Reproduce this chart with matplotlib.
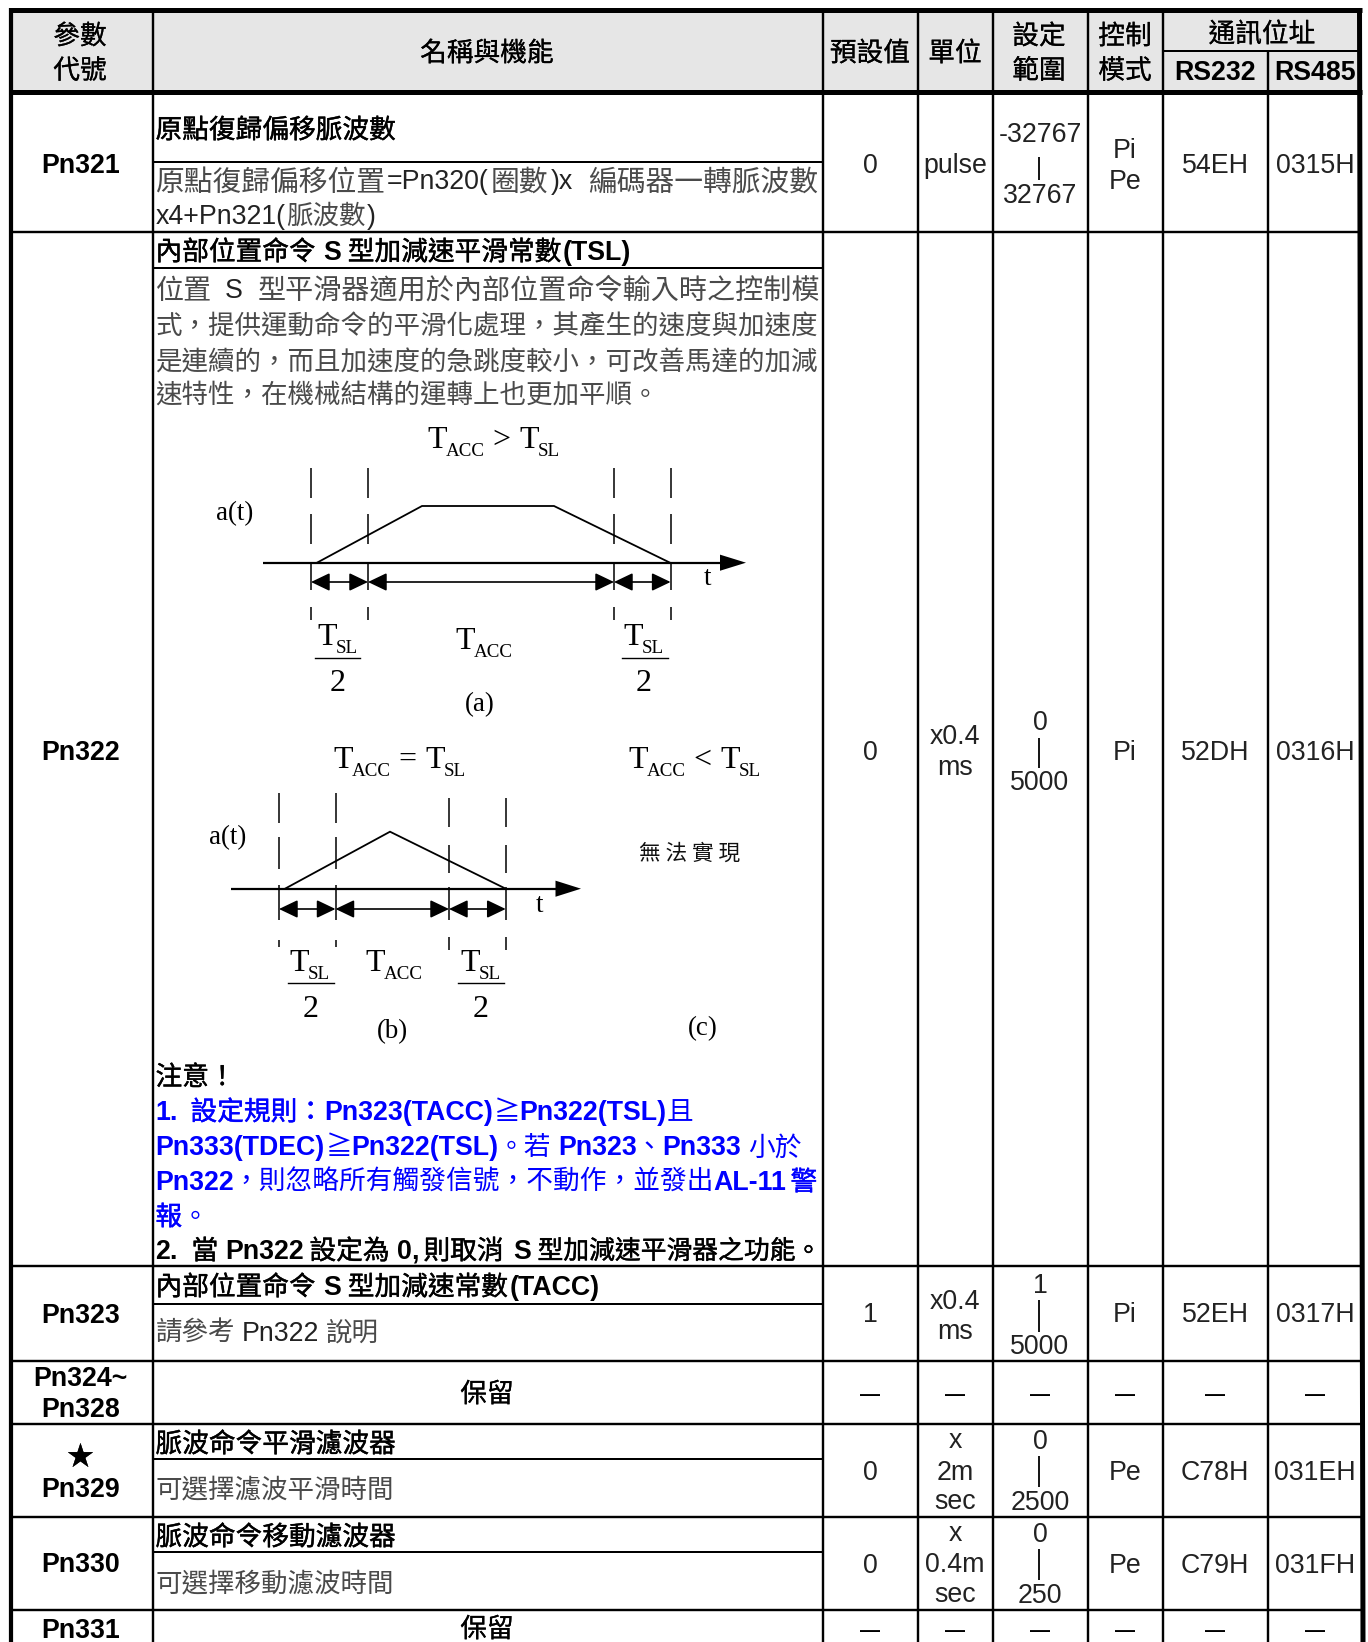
import matplotlib
matplotlib.use('Agg')
import matplotlib.pyplot as plt
from matplotlib import patheffects as pe
from matplotlib.patches import FancyArrowPatch, ArrowStyle, Rectangle

# contenido de la tabla
codes = [['Pn321'], ['Pn322'], ['Pn323'], ['Pn324~', 'Pn328'], ['★', 'Pn329'], ['Pn330'], ['Pn331']]
defaults = ['0', '0', '1', '—', '0', '0', '—']
units = [['pulse'], ['x0.4', 'ms'], ['x0.4', 'ms'], ['—'], ['x', '2m', 'sec'], ['x', '0.4m', 'sec'], ['—']]
range_lo = ['-32767', '0', '1', None, '0', '0', None]
range_hi = ['32767', '5000', '5000', None, '2500', '250', None]
modes = [['Pi', 'Pe'], ['Pi'], ['Pi'], ['—'], ['Pe'], ['Pe'], ['—']]
rs232 = ['54EH', '52DH', '52EH', '—', 'C78H', 'C79H', '—']
rs485 = ['0315H', '0316H', '0317H', '—', '031EH', '031FH', '—']

headings = {
    128: [('原點復歸偏移脈波數', 'H')],
    250: [('內部位置命令', 'H'), ('S', 'B'), ('型加減速平滑常數', 'H'), ('(TSL)', 'B')],
    1285: [('內部位置命令', 'H'), ('S', 'B'), ('型加減速常數', 'H'), ('(TACC)', 'B')],
    1442: [('脈波命令平滑濾波器', 'H')],
    1535: [('脈波命令移動濾波器', 'H')],
}
body_short = {
    214: [('x4+Pn321(', 'L'), ('脈波數', 'C'), (')', 'L')],
    324: [('式，提供運動命令的平滑化處理，其產生的速度與加速度', 'C')],
    360: [('是連續的，而且加速度的急跳度較小，可改善馬達的加減', 'C')],
    393: [('速特性，在機械結構的運轉上也更加平順。', 'C')],
    1331: [('請參考', 'C'), ('Pn322', 'L'), ('說明', 'C')],
    1487: [('可選擇濾波平滑時間', 'C')],
    1581: [('可選擇移動濾波時間', 'C')],
}

line_a = ['原點復歸偏移位置', '=Pn320(', '圈數', ')x', '編碼器一轉脈波數']
line_a_st = 'ALALA'
line_a_x = [157, 388, 492, 552, 590]
line_b = ['位置', 'S', '型平滑器適用於內部位置命令輸入時之控制模']
line_b_st = 'TLT'
line_b_x = [157, 226, 259]

note_0 = ['注意！']
note_1 = ['1.', '設定規則：', 'Pn323(TACC)', '≧', 'Pn322(TSL)', '且']
note_1_st = 'mMmbmb'
note_1_x = [157, 192, 326, 495, 521, 668]
note_2 = ['Pn333(TDEC)', '≧', 'Pn322(TSL)', '。若', 'Pn323', '、', 'Pn333', '小於']
note_2_st = 'mbmbmbmb'
note_2_x = [157, 327, 353, 499, 560, 637, 664, 750]
note_3 = ['Pn322', '，則忽略所有觸發信號，不動作，並發出', 'AL-11', '警']
note_3_st = 'mbmM'
note_3_x = [157, 234, 715, 792]
note_4 = ['報', '。']
note_4_st = 'Mb'
note_4_x = [157, 183]
note_5 = ['2.', '當', 'Pn322', '設定為', '0', ',', '則取消', 'S', '型加減速平滑器之功能。']
note_5_st = 'BHBHBBHBS'
note_5_x = [157, 193, 227, 311, 398, 413, 425, 515, 539]

# geometria de la tabla (pixeles de la imagen)
col_edges = [10.5, 153, 823, 918, 993, 1088, 1163, 1268, 1361]
row_edges = [92, 232, 1266.5, 1361, 1424, 1517, 1610]
sub_rows = [162, 268, 1304, 1459, 1552]
row_y = [163.5, 750, 1312, 1393, 1470, 1563, 1629]
code_y = [[163.5], [750], [1313], [1376, 1407], [1455, 1487], [1562], [1628]]
unit_y = [[163.5], [734, 765], [1299, 1329], [1393], [1438, 1470, 1499], [1531, 1562, 1592], [1629]]
range_y = [(132, 193), (720, 780), (1283, 1344), None, (1439, 1500), (1532, 1593), None]
bar_y = [(157, 180), (738, 768), (1300, 1332), None, (1456, 1487), (1549, 1580), None]
mode_y = [[148, 179], [750], [1312], [1393], [1470], [1563], [1629]]
cx = [870, 955, 1040, 1125, 1215, 1315]

FS = 26.7 * 0.72  # px a dpi 100
SERIF = 'Liberation Serif'
ARIAL = 'Liberation Sans'
CJK = 'Noto Sans CJK TC'

fig = plt.figure(figsize=(13.68, 16.42), dpi=100)
ax = fig.add_axes([0, 0, 1, 1])
ax.set_xlim(0, 1368)
ax.set_ylim(1642, 0)
ax.axis('off')
rend = fig.canvas.get_renderer()

STYLES = {
    'C': dict(family=CJK, color='#4a4a4a', size=26.5 * 0.72),
    'T': dict(family=CJK, color='#4a4a4a', size=28.1 * 0.72),
    'A': dict(family=CJK, color='#4a4a4a', size=28.8 * 0.72),
    'L': dict(family=ARIAL, color='#222222'),
    'N': dict(family=CJK, color='black', stroke=0.15),
    'H': dict(family=CJK, color='black', stroke=0.3),
    'S': dict(family=CJK, color='black', stroke=0.3, size=25.8 * 0.72),
    'B': dict(family=ARIAL, color='black', weight='bold'),
    'D': dict(family=ARIAL, color='black', weight='bold', size=20 * 0.72),
    'b': dict(family=CJK, color='#0000ff'),
    'M': dict(family=CJK, color='#0000ff', stroke=0.3),
    'm': dict(family=ARIAL, color='#0000ff', weight='bold'),
}


def put(x, y, s, style='L', ha='left'):
    opts = dict(STYLES[style])
    stroke = opts.pop('stroke', None)
    size = opts.pop('size', FS)
    # y es el centro visual de la linea
    off = (0.38 if opts['family'] == CJK else 0.36) * size / 0.72
    t = ax.text(x, y + off, s, ha=ha, va='baseline', fontsize=size, **opts)
    if stroke:
        t.set_path_effects([pe.withStroke(linewidth=stroke, foreground=opts['color'])])
    return t


def val(x, y, s):
    # celda de valor o guion
    put(x, y, s, 'D' if s == '—' else 'L', ha='center')


def flow(x, y, runs):
    for i, (s, st) in enumerate(runs):
        t = put(x, y, s, st)
        x += t.get_window_extent(rend).width + (7 if i < len(runs) - 1 and s[-1] in '令S考2' else 1)


def placed(y, texts, styles, xs):
    for s, st, x in zip(texts, styles, xs):
        put(x - 1.5, y, s, st)


def hline(y, x0, x1, w=2.0):
    ax.plot([x0, x1], [y, y], color='black', lw=w * 0.72, solid_capstyle='butt')


def vline(x, y0, y1, w=2.0):
    ax.plot([x, x], [y0, y1], color='black', lw=w * 0.72, solid_capstyle='butt')


def serif(x, y, s, size=32, ha='center'):
    return ax.text(x, y, s, family=SERIF, fontsize=size * 0.72, ha=ha, va='baseline', color='black')


def t_sub(x, y, sub):
    # T con subindice: x es el inicio, y la linea base
    t = serif(x, y, 'T', ha='left')
    w = t.get_window_extent(rend).width
    s = serif(x + w - 1, y + 8, sub, size=19, ha='left')
    return x + w - 1 + s.get_window_extent(rend).width


def frac(xc, x0, x1, ytext, ybar, y2):
    t_sub(xc - 21, ytext, 'SL')
    ax.plot([x0, x1], [ybar, ybar], color='black', lw=1.0)
    serif(xc, y2, '2')


def ramp(xv, segs, segs2, curve_x, curve_y, axis, y_ax, y_arrow, head_from):
    for i, x in enumerate(xv):
        for a, b in (segs if i < 2 else segs2):
            ax.plot([x, x], [a, b], color='black', lw=1.1, solid_capstyle='butt')
    ax.plot(curve_x, curve_y, color='black', lw=1.3, solid_joinstyle='miter')
    ax.plot([axis[0], head_from + 2], [y_ax, y_ax], color='black', lw=1.6, solid_capstyle='butt')
    ax.add_patch(FancyArrowPatch((head_from, y_ax), (axis[1], y_ax), shrinkA=0, shrinkB=0, color='black', lw=0,
                                 mutation_scale=1, arrowstyle=ArrowStyle('-|>', head_length=(axis[1] - head_from) * 0.72, head_width=5.8)))
    for a, b in zip(xv[:-1], xv[1:]):
        ax.add_patch(FancyArrowPatch((a, y_arrow), (b, y_arrow), shrinkA=0, shrinkB=0, color='black', lw=1.2,
                                     mutation_scale=1, arrowstyle=ArrowStyle('<|-|>', head_length=11.5, head_width=5.5)))


# fondo de la cabecera
ax.add_patch(Rectangle((11, 11), 1350, 80, facecolor='#e6e6e6', edgecolor='none'))

# lineas de la tabla
hline(10.5, 8.5, 1362, 5)
hline(92, 8.5, 1362, 5)
for y in row_edges[1:]:
    hline(y, 10.5, 1362, 2.4)
for y in sub_rows:
    hline(y, 153, 823, 2.0)
hline(51, 1163, 1361, 2.0)
for x in col_edges[1:-1]:
    vline(x, 51 if x == 1268 else 10, 1642, 2.4)
ax.plot([10.5, 10.5], [8, 1642], color='black', lw=4.2 * 0.72, solid_capstyle='butt')
ax.plot([1359.5, 1363], [8, 1642], color='black', lw=5 * 0.72, solid_capstyle='butt')

# cabecera
put(80, 34, '參數', 'N', ha='center')
put(80, 68.5, '代號', 'N', ha='center')
put(487, 51, '名稱與機能', 'N', ha='center')
put(870, 51, '預設值', 'N', ha='center')
put(955, 51, '單位', 'N', ha='center')
put(1039, 34, '設定', 'N', ha='center')
put(1039, 68.5, '範圍', 'N', ha='center')
put(1125, 34, '控制', 'N', ha='center')
put(1125, 68.5, '模式', 'N', ha='center')
put(1262, 32, '通訊位址', 'N', ha='center')
put(1215, 70, 'RS232', 'B', ha='center')
put(1315, 70, 'RS485', 'B', ha='center')

# columnas de la derecha
for i in range(len(codes)):
    for s, y in zip(codes[i], code_y[i]):
        put(80.5, y, s, 'N' if s == '★' else 'B', ha='center')
    val(cx[0], row_y[i], defaults[i])
    for s, y in zip(units[i], unit_y[i]):
        val(cx[1], y, s)
    if range_lo[i] is None:
        val(cx[2], row_y[i], '—')
    else:
        val(cx[2], range_y[i][0], range_lo[i])
        val(cx[2], range_y[i][1], range_hi[i])
        vline(cx[2] - 1, bar_y[i][0], bar_y[i][1], 1.8)
    for s, y in zip(modes[i], mode_y[i]):
        val(cx[3], y, s)
    val(cx[4], row_y[i], rs232[i])
    val(cx[5], row_y[i], rs485[i])

# columna de nombre y funcion
for y, runs in headings.items():
    flow(155.5, y, runs)
for y, runs in body_short.items():
    flow(155.5, y, runs)
placed(179.5, line_a, line_a_st, line_a_x)
placed(288, line_b, line_b_st, line_b_x)
put(487, 1392, '保留', 'N', ha='center')
put(487, 1627, '保留', 'N', ha='center')

put(155.5, 1075, note_0[0], 'H')
placed(1110, note_1, note_1_st, note_1_x)
placed(1145, note_2, note_2_st, note_2_x)
placed(1180, note_3, note_3_st, note_3_x)
placed(1215, note_4, note_4_st, note_4_x)
placed(1249, note_5, note_5_st, note_5_x)

# diagrama (a)
dash_a = [(468, 498), (514, 544), (562, 590), (607, 620)]
ramp([311, 368, 614, 670.6], dash_a, dash_a,
     [317, 422, 554, 670], [562.7, 506, 506, 562.7], (263, 746), 562.7, 582, 720)
x = t_sub(427, 448, 'ACC')
serif(x + 8, 448, '>', ha='left')
t_sub(x + 35, 448, 'SL')
serif(235, 520, 'a(t)', size=27)
serif(708, 585, 't', size=27)
frac(338, 315, 360, 645, 658, 691)
frac(644, 622, 668, 645, 658, 691)
t_sub(455, 649, 'ACC')
serif(480, 711, '(a)', size=27)

# diagrama (b)
ramp([279, 335.5, 449, 505.7], [(793, 823), (837, 869), (885, 920), (940, 947)], [(798, 827), (845, 873), (887, 920), (937, 950)],
     [285, 390, 505.7], [888.7, 831.7, 888.7], (231, 581), 888.7, 909, 555.5)
x = t_sub(333, 768, 'ACC')
serif(x + 8, 768, '=', ha='left')
t_sub(x + 35, 768, 'SL')
serif(228, 844, 'a(t)', size=27)
serif(540, 912, 't', size=27)
frac(310.6, 288, 333.5, 971, 983.5, 1017)
frac(481, 458, 504, 971, 983.5, 1017)
t_sub(365, 971, 'ACC')
serif(392, 1038, '(b)', size=27)

# caso (c)
x = t_sub(628, 768, 'ACC')
serif(x + 8, 768, '<', ha='left')
t_sub(x + 35, 768, 'SL')
ax.text(690, 860, '無 法 實 現', family=CJK, fontsize=15.6, ha='center', va='baseline', color='#111111')
serif(703, 1035, '(c)', size=27)

fig.savefig('out.png', dpi=100)
